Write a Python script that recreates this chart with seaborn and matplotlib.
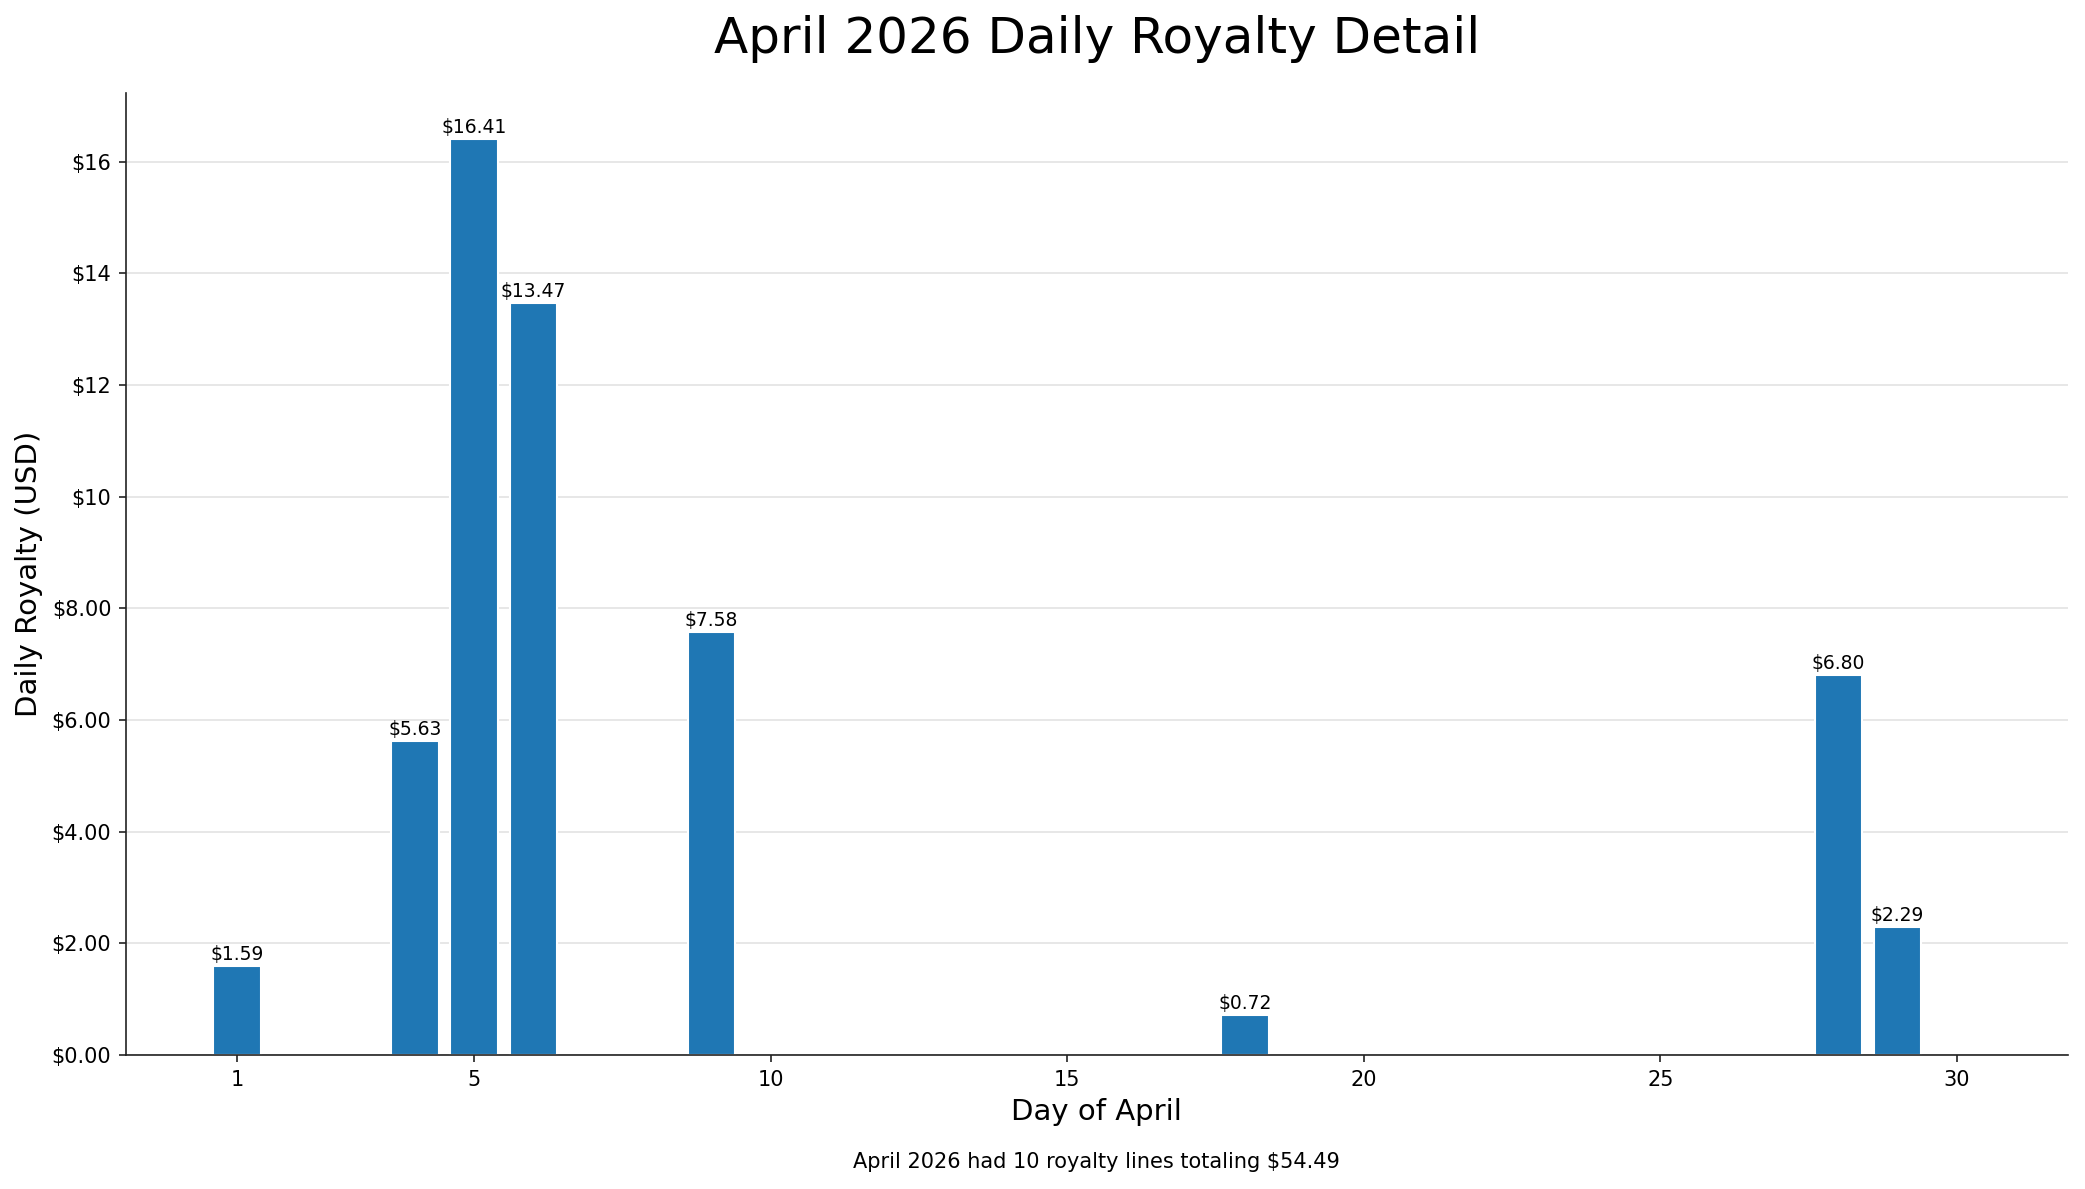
import matplotlib
matplotlib.use("Agg")
import matplotlib.pyplot as plt
import seaborn as sns
import pandas as pd
from matplotlib.ticker import FuncFormatter

days = [1, 4, 5, 6, 9, 18, 28, 29]
royalty = [1.59, 5.63, 16.41, 13.47, 7.58, 0.72, 6.80, 2.29]
x_ticks = [1, 5, 10, 15, 20, 25, 30]
title = "April 2026 Daily Royalty Detail"
x_label = "Day of April"
y_label = "Daily Royalty (USD)"
footnote = "April 2026 had 10 royalty lines totaling $54.49"

sns.set_style("ticks")
plt.rcParams['font.family'] = ['DejaVu Sans']
plt.rcParams['text.color'] = 'black'
plt.rcParams['axes.labelcolor'] = 'black'

df = pd.DataFrame({"day": days, "royalty": royalty})

fig = plt.figure(figsize=(13.9, 7.927), dpi=150)
ax = fig.add_axes([0.0604, 0.1127, 0.9918 - 0.0604, 0.9218 - 0.1127])

sns.barplot(data=df, x="day", y="royalty", native_scale=True, width=0.8,
            color="#1f77b4", saturation=1, ax=ax, zorder=2)

for c in ax.containers:
    ax.bar_label(c, labels=[f"${v:.2f}" for v in royalty], fontsize=9,
                 padding=1, color="black")

ax.set_xlim(-0.87, 31.87)
ax.set_ylim(0, max(royalty) * 1.05)
ax.set_xticks(x_ticks)
ax.set_xticklabels([str(t) for t in x_ticks])
ax.yaxis.set_major_formatter(FuncFormatter(lambda v, p: f"${v:.0f}" if v >= 10 else f"${v:.2f}"))
ax.tick_params(axis="both", labelsize=10, labelcolor="black", color="#222222")
ax.grid(axis="y", color="#e3e3e3", linewidth=0.8, zorder=0)
ax.set_axisbelow(True)
sns.despine(ax=ax)
for s in ["left", "bottom"]:
    ax.spines[s].set_color("#222222")

ax.set_xlabel(x_label, fontsize=14, color="black")
ax.set_ylabel(y_label, fontsize=14, color="black")
ax.set_title(title, fontsize=24, pad=19, color="black")

ax_center = (0.0604 + 0.9918) / 2
fig.text(ax_center, 0.0227, footnote, ha="center", va="center", fontsize=10,
         color="black")

fig.savefig("out.png", dpi=150)
